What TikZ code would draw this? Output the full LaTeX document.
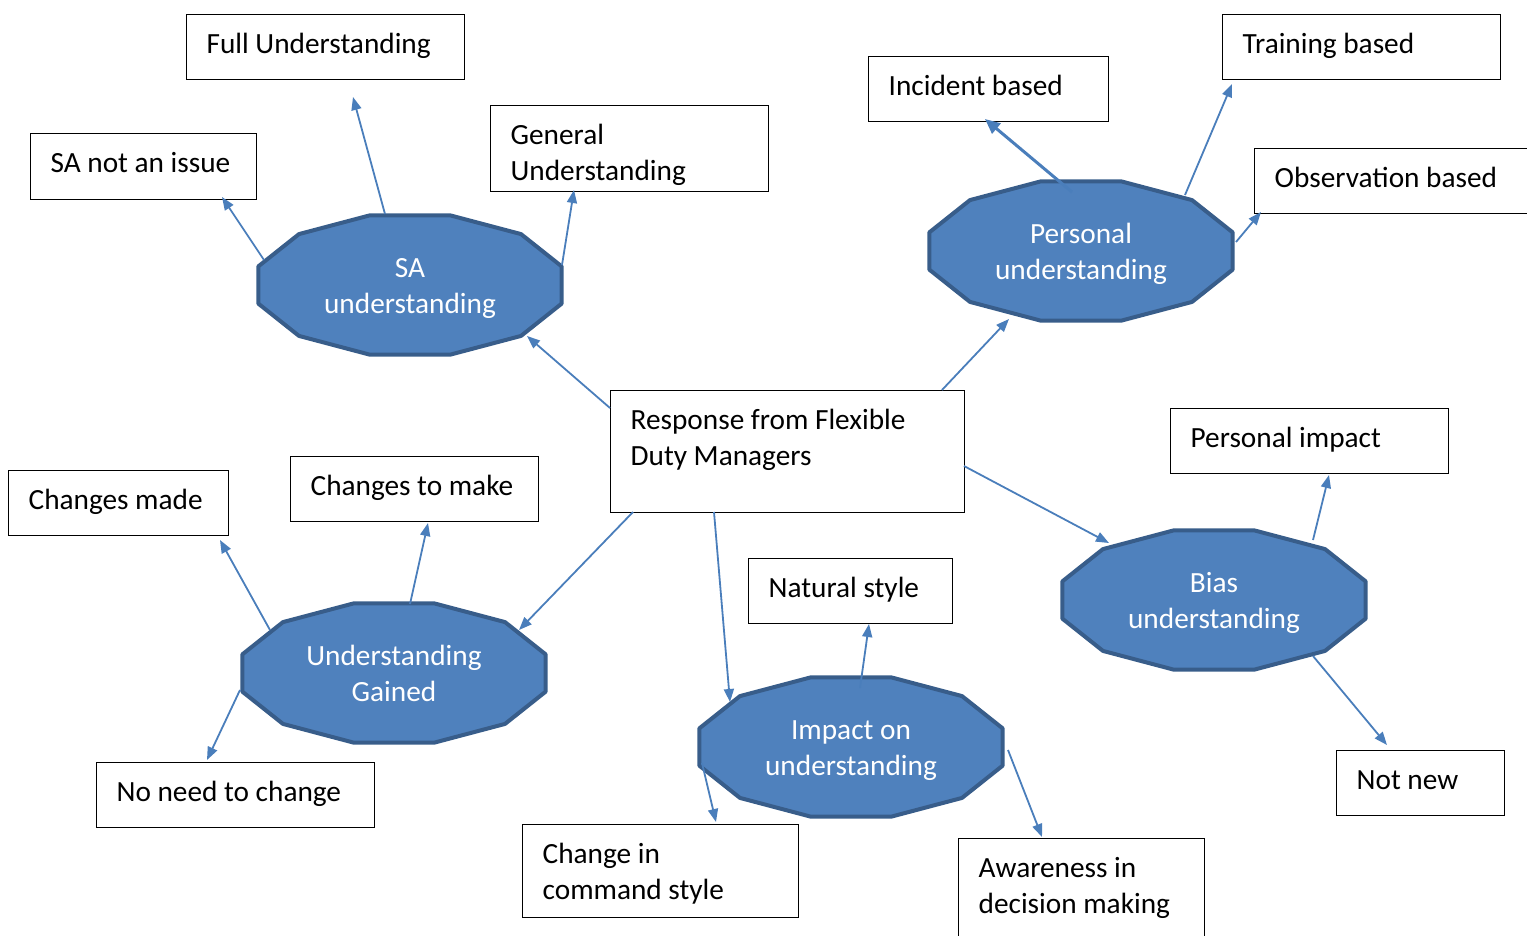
\documentclass[tikz,border=0pt]{standalone}
\usepackage{fontspec}
\setmainfont{Carlito}
\usetikzlibrary{arrows.meta,calc,backgrounds}
\definecolor{hubfill}{HTML}{4F81BD}
\definecolor{hubedge}{HTML}{385D8A}
\definecolor{linkblue}{HTML}{4A7EBB}

\begin{document}
\begin{tikzpicture}[x=1pt,y=-1pt,
  font=\fontsize{29.3}{36}\selectfont,
  box/.style 2 args={draw=black, line width=1.3pt, fill=white, anchor=north west,
    inner sep=0pt, text width=#1, text height=39pt, text depth=#2,
    execute at begin node={\raggedright\leftskip=20pt\spaceskip=6.6pt\relax}},
  hub/.style={inner sep=0pt, minimum width=318pt, minimum height=148pt,
    text=white, align=center, text height=64pt, text depth=7pt},
  hubshape/.style={fill=hubfill, draw=hubedge, line width=4pt, line join=round},
  link/.style={draw=linkblue, line width=1.8pt, -{Triangle[length=13pt,width=10pt]}},
  heavy/.style={line width=3pt, -{Triangle[length=15pt,width=13pt]}}
]
\useasboundingbox (0,0) rectangle (1527,935);

% central box
\node[box={354pt}{83pt}] (resp) at (610,390) {Response from Flexible\\Duty Managers};

% themes
\node[hub] (sa) at (410,285) {SA\\understanding};
\node[hub] (pu) at (1081,251) {Personal\\understanding};
\node[hub] (ug) at (394,673) {Understanding\\Gained};
\node[hub] (iu) at (851,747) {Impact on\\understanding};
\node[hub] (bu) at (1214,600) {Bias\\understanding};

% twelve-sided outlines behind the theme labels
\begin{pgfonlayer}{background}
  \foreach \h in {sa,pu,ug,iu,bu}
    \path[hubshape] ($(\h.center)+(15:157 and 72)$)
      \foreach \a in {45,75,...,345} { -- ($(\h.center)+(\a:157 and 72)$) } -- cycle;
\end{pgfonlayer}

% sub-themes
\node[box={278pt}{26pt}] (full) at (186,14) {Full Understanding};
\node[box={226pt}{27pt}] (sanot) at (30,133) {SA not an issue};
\node[box={278pt}{47pt}] (gen) at (490,105) {General\\Understanding};
\node[box={240pt}{26pt}] (inc) at (868,56) {Incident based};
\node[box={278pt}{26pt}] (train) at (1222,14) {Training based};
\node[box={290pt}{26pt}] (obs) at (1254,148) {Observation based};
\node[box={278pt}{26pt}] (pimp) at (1170,408) {Personal impact};
\node[box={248pt}{26pt}] (ctm) at (290,456) {Changes to make};
\node[box={220pt}{26pt}] (cmade) at (8,470) {Changes made};
\node[box={204pt}{26pt}] (nat) at (748,558) {Natural style};
\node[box={278pt}{26pt}] (noneed) at (96,762) {No need to change};
\node[box={168pt}{26pt}] (notnew) at (1336,750) {Not new};
\node[box={276pt}{54pt}] (cmd) at (522,824) {Change in\\command style};
\node[box={246pt}{71pt}] (aware) at (958,838) {Awareness in\\decision making};

% from the responses to the themes
\draw[link] ($(resp.north west)+(0,18)$) -- ($(sa.center)+(117,51)$);
\draw[link] ($(resp.north west)+(332,0)$) -- ($(pu.center)+(-72,68)$);
\draw[link] ($(resp.north west)+(23,122)$) -- ($(ug.center)+(125,-43)$);
\draw[link] ($(resp.north west)+(104,122)$) -- ($(iu.center)+(-121,-45)$);
\draw[link] ($(resp.north west)+(354,76)$) -- ($(bu.center)+(-105,-57)$);

% from the themes to the sub-themes
\draw[link] ($(sa.center)+(-146,-25)$) -- ($(sanot.north west)+(192,64)$);
\draw[link] ($(sa.center)+(-25,-71)$) -- ($(full.north west)+(167,83)$);
\draw[link] ($(sa.center)+(152,-20)$) -- ($(gen.north west)+(84,85)$);
\draw[link,heavy] ($(pu.center)+(-9,-59)$) -- ($(inc.north west)+(117,63)$);
\draw[link] ($(pu.center)+(104,-56)$) -- ($(train.north west)+(10,70)$);
\draw[link] ($(pu.center)+(155,-9)$) -- ($(obs.north west)+(7,64)$);
\draw[link] ($(ug.center)+(-124,-43)$) -- ($(cmade.north west)+(212,70)$);
\draw[link] ($(ug.center)+(16,-69)$) -- ($(ctm.north west)+(138,67)$);
\draw[link] ($(ug.center)+(-154,17)$) -- ($(noneed.north west)+(111,-2)$);
\draw[link] ($(iu.center)+(9,-59)$) -- ($(nat.north west)+(121,66)$);
\draw[link] ($(iu.center)+(-149,16)$) -- ($(cmd.north west)+(194,-2)$);
\draw[link] ($(iu.center)+(157,3)$) -- ($(aware.north west)+(84,-1)$);
\draw[link] ($(bu.center)+(99,-60)$) -- ($(pimp.north west)+(159,67)$);
\draw[link] ($(bu.center)+(99,56)$) -- ($(notnew.north west)+(51,-5)$);
\end{tikzpicture}
\end{document}
